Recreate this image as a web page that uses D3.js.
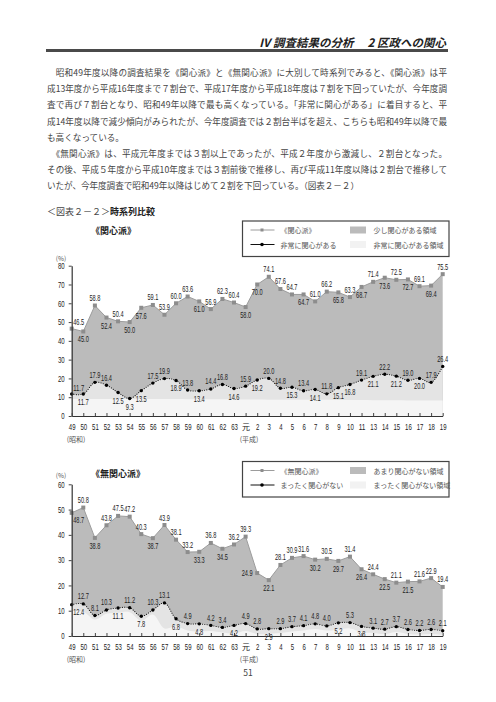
<!DOCTYPE html>
<html>
<head>
<meta charset="utf-8">
<script src="https://cdn.jsdelivr.net/npm/d3@7"></script>
<style>
  body { margin: 0; background: #fff; }
  svg text { font-family: "Noto Sans CJK JP", sans-serif; fill: #333; }
  svg text.num { font-family: "Liberation Sans", Arial, sans-serif; }
</style>
</head>
<body>
<svg id="page"></svg>
<script>
// 年度 (昭和49〜平成19、平成12年度なし)
const years = ["49","50","51","52","53","54","55","56","57","58","59","60","61","62","63","元",
               "2","3","4","5","6","7","8","9","10","11","13","14","15","16","17","18","19"];

// 《関心派》
const kanshin = [46.5,45.0,58.8,52.4,50.4,50.0,57.6,59.1,53.9,60.0,63.6,61.0,56.9,62.3,60.4,58.0,
                 70.0,74.1,67.6,64.7,64.7,61.0,66.2,65.8,63.3,68.7,71.4,73.6,72.5,72.7,69.1,69.4,75.5];
// 非常に関心がある
const hijouni = [11.7,11.7,17.9,16.4,12.5,9.3,13.5,17.5,19.9,18.9,13.8,13.4,14.4,16.8,14.6,15.9,
                 19.2,20.0,14.8,15.3,13.4,14.1,11.8,15.1,16.8,19.1,21.1,22.2,21.2,19.0,20.0,17.9,26.4];
// 下側の最も薄い帯
const kanshinBand = [9.0,9.0,9.0,9.0,9.0,9.0,9.0,9.0,9.0,9.0,8.9,8.9,8.9,8.9,8.8,8.8,
                     8.8,8.7,8.7,8.7,8.6,8.6,8.6,8.5,8.5,8.5,8.4,8.4,8.4,8.3,8.3,8.2,8.2];

// 《無関心派》
const mukanshin = [48.7,50.8,38.8,43.8,47.5,47.2,40.3,38.7,43.9,38.1,33.2,33.3,36.8,34.5,36.2,39.3,
                   24.9,22.1,28.1,30.9,31.6,30.2,30.5,29.7,31.4,26.4,24.4,22.5,21.1,21.5,21.6,22.9,19.4];
// まったく関心がない
const mattaku = [12.4,12.7,8.1,10.3,11.1,11.2,7.8,10.3,13.1,6.8,4.9,4.8,4.2,3.4,4.2,4.9,
                 2.8,2.9,2.9,3.7,4.1,4.8,4.0,5.2,5.3,3.8,3.1,2.7,3.7,2.6,2.2,2.6,2.1];
const mukanshinBand = [10.0,9.6,6.5,8.8,9.2,9.4,6.0,8.5,3.0,3.8,2.2,1.8,2.0,1.4,1.0,2.0,
                       0.8,0.8,1.2,1.8,2.2,2.8,2.2,2.6,3.0,1.6,1.2,0.8,1.6,0.8,0.6,0.8,0.4];

// ラベル位置 t:上 b:下 r:右上 s:右下 l:左
const kanshinPos   = "rbtbtbbttttbtttbbtttbttbtbtbtbtbt";
const hijouniPos   = "rbttbbbttbtbttbtbttbtbtbbtbtbtbtt";
const mukanshinPos = "stbttttbtttbtbttlbtttbtbtbtbtbttt";
const mattakuPos   = "stttbtbttbtbttbttbtttttbtbttttttt";

const paragraph = [
  "　昭和49年度以降の調査結果を《関心派》と《無関心派》に大別して時系列でみると、《関心派》は平",
  "成13年度から平成16年度まで７割台で、平成17年度から平成18年度は７割を下回っていたが、今年度調",
  "査で再び７割台となり、昭和49年以降で最も高くなっている。「非常に関心がある」に着目すると、平",
  "成14年度以降で減少傾向がみられたが、今年度調査では２割台半ばを超え、こちらも昭和49年以降で最",
  "も高くなっている。",
  "　《無関心派》は、平成元年度までは３割以上であったが、平成２年度から激減し、２割台となった。",
  "その後、平成５年度から平成10年度までは３割前後で推移し、再び平成11年度以降は２割台で推移して",
  "いたが、今年度調査で昭和49年以降はじめて２割を下回っている。（図表２－２）"
];
const paraWidths = [400, 400, 400, 400, null, 400, 400, 312];

const width = 496, height = 702;
const svg = d3.select("#page").attr("width", width).attr("height", height);

// 数字を細長い字形に詰める
const narrow = (sel, per) => sel.each(function() {
  const s = d3.select(this).text();
  if (/^[0-9.]+$/.test(s)) {
    const digits = s.replace(".", "").length;
    d3.select(this).attr("textLength", digits * per + (s.includes(".") ? 1.8 : 0))
                   .attr("lengthAdjust", "spacingAndGlyphs");
  }
});

// ヘッダー
svg.append("text")
   .attr("x", 446).attr("y", 42)
   .attr("text-anchor", "end")
   .attr("dominant-baseline", "central")
   .style("font-size", "11.5px").style("font-weight", "bold").style("font-style", "italic")
   .style("fill", "#222")
   .text("Ⅳ  調査結果の分析　 2  区政への関心");
svg.append("rect").attr("x", 46).attr("y", 49).attr("width", 402).attr("height", 3).attr("fill", "#4a4a4a");

paragraph.forEach((line, i) => {
  const t = svg.append("text")
     .attr("x", 47).attr("y", 72 + i * 16.2)
     .attr("dominant-baseline", "central")
     .style("font-size", "8.6px").style("fill", "#444")
     .text(line);
  if (paraWidths[i]) t.attr("textLength", paraWidths[i]).attr("lengthAdjust", "spacing");
});

const caption = svg.append("text")
   .attr("x", 47).attr("y", 211)
   .attr("dominant-baseline", "central")
   .style("font-size", "9px");
caption.append("tspan").style("fill", "#444").text("＜図表２－２＞");
caption.append("tspan").style("font-weight", "bold").style("fill", "#222").text("時系列比較");

const offsets = {
  t: [0, -7.5], b: [0, 8], r: [7, -6.5], s: [7, 7], l: [-10, 0]
};

function drawChart(cfg) {
  const x = d3.scalePoint().domain(years).range([71.7, 442.7]);
  const y = d3.scaleLinear().domain([0, cfg.yMax]).range([cfg.y0, cfg.yTop]);
  const g = svg.append("g");

  // 濃いグレー領域
  g.append("path")
   .datum(cfg.upper)
   .attr("fill", "#bbbbbb")
   .attr("d", d3.area().x((d, i) => x(years[i])).y0(y(0)).y1(d => y(d)));

  // 薄い領域
  g.append("path")
   .datum(cfg.lower)
   .attr("fill", "#e4e4e4")
   .attr("d", d3.area().curve(d3.curveCatmullRom).x((d, i) => x(years[i])).y0(y(0)).y1(d => y(d)));

  g.append("path")
   .datum(cfg.band)
   .attr("fill", "#f5f5f5")
   .attr("d", d3.area().curve(d3.curveCatmullRom).x((d, i) => x(years[i])).y0(y(0)).y1(d => y(d)));

  // 上側の折れ線
  g.append("path")
   .datum(cfg.upper)
   .attr("fill", "none").attr("stroke", "#9c9c9c").attr("stroke-width", 1)
   .attr("d", d3.line().x((d, i) => x(years[i])).y(d => y(d)));
  g.selectAll(".sq").data(cfg.upper).enter().append("rect")
   .attr("x", (d, i) => x(years[i]) - 2).attr("y", d => y(d) - 2)
   .attr("width", 4).attr("height", 4).attr("fill", "#8d8d8d");

  // 下側の点線
  g.append("path")
   .datum(cfg.lower)
   .attr("fill", "none").attr("stroke", "#111").attr("stroke-width", 1.1)
   .attr("stroke-dasharray", "0.1,2.2").attr("stroke-linecap", "round")
   .attr("d", d3.line().curve(d3.curveCatmullRom).x((d, i) => x(years[i])).y(d => y(d)));
  g.selectAll(".dot").data(cfg.lower).enter().append("circle")
   .attr("cx", (d, i) => x(years[i])).attr("cy", d => y(d)).attr("r", 1.7).attr("fill", "#000");

  // 軸
  const yAxis = g.append("g")
   .attr("transform", "translate(71.7,0)")
   .call(d3.axisLeft(y).tickValues(d3.range(0, cfg.yMax + 1, 10)).tickSizeInner(3).tickSizeOuter(0).tickPadding(4));
  yAxis.selectAll("text").attr("class", "num").style("font-size", "8.5px").style("fill", "#222").call(narrow, 3.35);

  const xAxis = g.append("g")
   .attr("transform", "translate(0," + y(0) + ")")
   .call(d3.axisBottom(x).tickSizeInner(-3).tickSizeOuter(0).tickPadding(8));
  xAxis.selectAll("text").attr("class", "num").style("font-size", "8.5px").style("fill", "#222").call(narrow, 3.35);
  xAxis.selectAll("text").filter(d => d === "元").attr("class", null).style("font-size", "8px");
  [yAxis, xAxis].forEach(a => {
    a.select(".domain").attr("stroke", "#333").attr("stroke-width", 1.2);
    a.selectAll(".tick line").attr("stroke", "#444");
  });

  // 値ラベル
  const addLabels = (vals, pos) => {
    g.selectAll(null).data(vals).enter().append("text")
     .attr("class", "num")
     .attr("x", (d, i) => x(years[i]) + offsets[pos[i]][0])
     .attr("y", (d, i) => y(d) + offsets[pos[i]][1])
     .attr("text-anchor", "middle")
     .attr("dominant-baseline", "central")
     .style("font-size", "8.5px").style("fill", "#222")
     .text(d => d.toFixed(1))
     .call(narrow, 3.05);
  };
  addLabels(cfg.upper, cfg.upperPos);
  addLabels(cfg.lower, cfg.lowerPos);

  // 単位・タイトル
  g.append("text").attr("x", 61).attr("y", cfg.unitY).attr("text-anchor", "middle")
   .attr("dominant-baseline", "central").style("font-size", "6.5px").style("fill", "#555").text("(%)");
  g.append("text").attr("x", cfg.titleX).attr("y", cfg.titleY).attr("dominant-baseline", "central")
   .style("font-size", "9px").style("font-weight", "bold").style("fill", "#222").text(cfg.title);
  g.append("text").attr("x", 76).attr("y", y(0) + 23).attr("text-anchor", "middle")
   .attr("dominant-baseline", "central").style("font-size", "7px").style("fill", "#555").text("(昭和)");
  g.append("text").attr("x", 249).attr("y", y(0) + 23).attr("text-anchor", "middle")
   .attr("dominant-baseline", "central").style("font-size", "7px").style("fill", "#555").text("(平成)");

  // 凡例
  const lg = g.append("g").attr("transform", "translate(242.5," + cfg.legendY + ")");
  lg.append("rect").attr("width", 206.5).attr("height", 35.5)
    .attr("fill", "#fff").attr("stroke", "#444").attr("stroke-width", 1.2);
  lg.append("line").attr("x1", 8).attr("x2", 32).attr("y1", 9).attr("y2", 9).attr("stroke", "#9c9c9c");
  lg.append("rect").attr("x", 18).attr("y", 7.5).attr("width", 3).attr("height", 3).attr("fill", "#8d8d8d");
  lg.append("line").attr("x1", 8).attr("x2", 32).attr("y1", 23.5).attr("y2", 23.5).attr("stroke", "#111");
  lg.append("circle").attr("cx", 19.5).attr("cy", 23.5).attr("r", 1.8).attr("fill", "#000");
  lg.append("rect").attr("x", 107.5).attr("y", 5.5).attr("width", 16).attr("height", 7).attr("fill", "#bbbbbb");
  lg.append("rect").attr("x", 107.5).attr("y", 20).attr("width", 16).attr("height", 7).attr("fill", "#f2f2f2");
  const legendText = (tx, ty, s) => lg.append("text").attr("x", tx).attr("y", ty)
    .attr("dominant-baseline", "central").style("font-size", "7px").style("fill", "#555").text(s);
  legendText(38, 9, cfg.legend[0]);
  legendText(131, 9, cfg.legend[1]);
  legendText(38, 23.5, cfg.legend[2]);
  legendText(131, 23.5, cfg.legend[3]);
}

drawChart({
  upper: kanshin, lower: hijouni, band: kanshinBand,
  upperPos: kanshinPos, lowerPos: hijouniPos,
  yMax: 80, y0: 416, yTop: 265.7,
  title: "《関心派》", titleX: 91, titleY: 230, unitY: 258,
  legendY: 221,
  legend: ["《関心派》", "少し関心がある領域", "非常に関心がある", "非常に関心がある領域"]
});

drawChart({
  upper: mukanshin, lower: mattaku, band: mukanshinBand,
  upperPos: mukanshinPos, lowerPos: mattakuPos,
  yMax: 60, y0: 636, yTop: 484.3,
  title: "《無関心派》", titleX: 91, titleY: 473, unitY: 475,
  legendY: 461.5,
  legend: ["《無関心派》", "あまり関心がない領域", "まったく関心がない", "まったく関心がない領域"]
});

svg.append("text").attr("x", 248).attr("y", 672).attr("text-anchor", "middle")
   .attr("dominant-baseline", "central").style("font-size", "8.5px").style("fill", "#444").text("51");
</script>
</body>
</html>
